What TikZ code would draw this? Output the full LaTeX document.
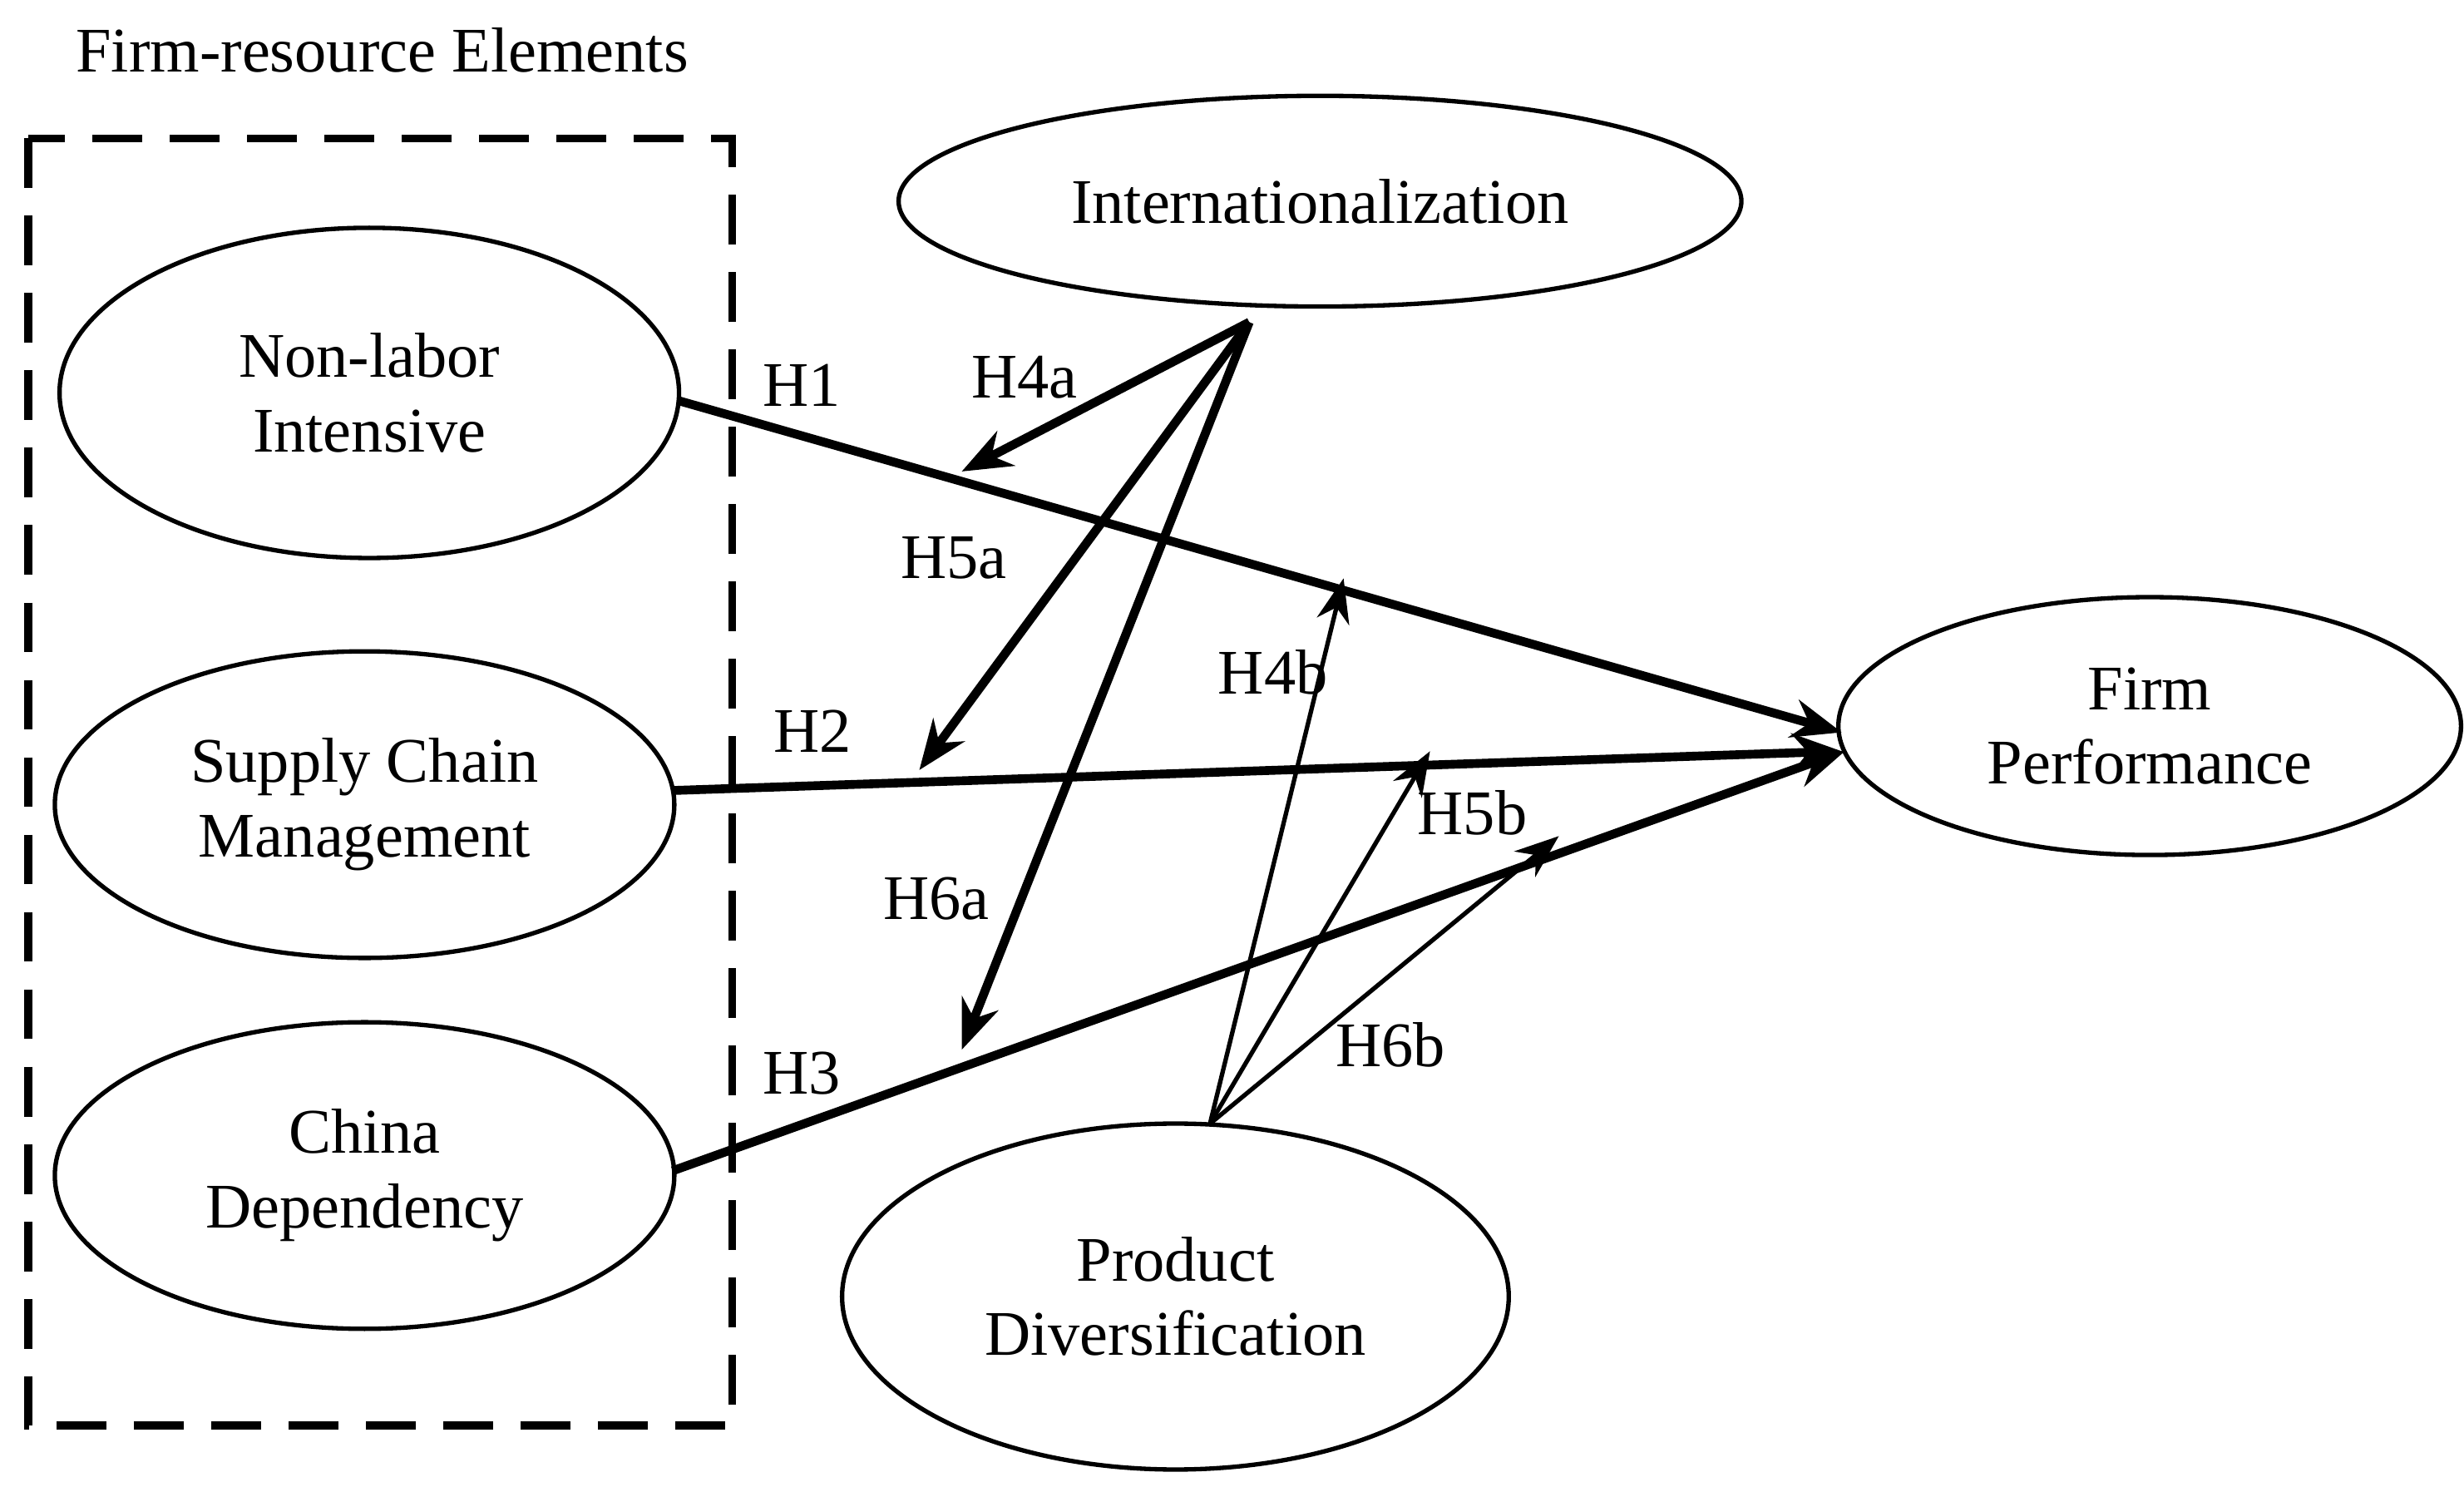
\documentclass[tikz,border=0pt]{standalone}
\usepackage{fontspec}
\setmainfont{Liberation Serif}
\usetikzlibrary{shapes.geometric,arrows.meta}
\begin{document}
\begin{tikzpicture}[x=0.01cm,y=-0.01cm,
  el/.style={draw,ellipse,inner sep=0pt,line width=0.8pt,align=center,font=\fontsize{11.5}{13.5}\selectfont},
  lab/.style={font=\fontsize{11.5}{13.5}\selectfont},
  thk/.style={line width=1.6pt,-{Stealth[length=9pt,width=7pt]}},
  thn/.style={line width=0.8pt,-{Stealth[length=8pt,width=6pt]}}]
\useasboundingbox (0,0) rectangle (1568,945.7);
\node[lab,anchor=west] (title) at (36,32) {Firm-resource Elements};
\draw[dashed,line width=1.4pt,dash pattern=on 9pt off 5pt] (18,88) rectangle (466,907);
\node[el,minimum width=3.94cm,minimum height=2.10cm] (nl) at (235,250) {Non-labor\\Intensive};
\node[el,minimum width=3.94cm,minimum height=1.95cm] (sc) at (232,512) {Supply Chain\\Management};
\node[el,minimum width=3.94cm,minimum height=1.95cm] (cd) at (232,748) {China\\Dependency};
\node[el,minimum width=5.36cm,minimum height=1.34cm] (in) at (840,128) {Internationalization};
\node[el,minimum width=3.96cm,minimum height=1.64cm] (fp) at (1368,462) {Firm\\Performance};
\node[el,minimum width=4.24cm,minimum height=2.20cm] (pd) at (748,825) {Product\\Diversification};
\coordinate (s1) at (432,255); \coordinate (s2) at (428,503); \coordinate (s3) at (428,745);
\coordinate (e1) at (1172,466); \coordinate (e2) at (1172,478); \coordinate (e3) at (1174,478);
\coordinate (io) at (795,205); \coordinate (po) at (770,715);
\coordinate (a4) at (612,300); \coordinate (a5) at (585,490); \coordinate (a6) at (612,668);
\coordinate (b4) at (855,368); \coordinate (b5) at (910,478); \coordinate (b6) at (992,532);
\draw[thk] (s1) -- (e1);
\draw[thk] (s2) -- (e2);
\draw[thk] (s3) -- (e3);
\draw[thk] (io) -- (a4);
\draw[thk] (io) -- (a5);
\draw[thk] (io) -- (a6);
\draw[thn] (po) -- (b4);
\draw[thn] (po) -- (b5);
\draw[thn] (po) -- (b6);
\node[lab] (h1) at (510,245) {H1};
\node[lab] (h4a) at (652,240) {H4a};
\node[lab] (h5a) at (607,355) {H5a};
\node[lab] (h2) at (517,465) {H2};
\node[lab] (h4b) at (810,428) {H4b};
\node[lab] (h5b) at (937,517) {H5b};
\node[lab] (h6a) at (596,572) {H6a};
\node[lab] (h3) at (510,683) {H3};
\node[lab] (h6b) at (885,665) {H6b};
\end{tikzpicture}
\end{document}
